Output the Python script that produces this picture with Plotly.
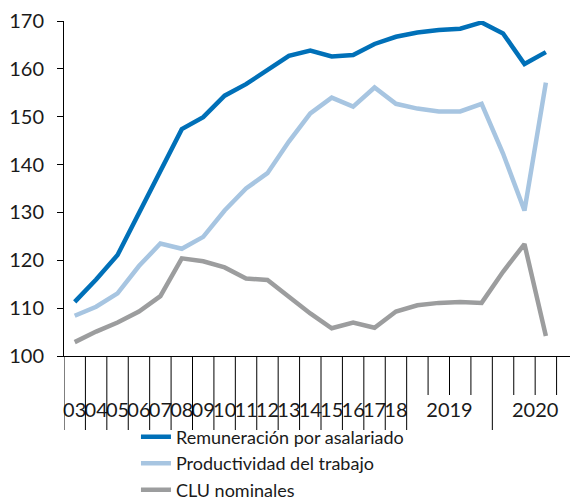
import plotly.graph_objects as go

# ---- data ----
categories = ["03", "04", "05", "06", "07", "08", "09", "10", "11", "12", "13", "14",
              "15", "16", "17", "18",
              "2019 T1", "2019 T2", "2019 T3", "2019 T4",
              "2020 T1", "2020 T2", "2020 T3"]
remuneracion = [111.3, 116.0, 121.1, 129.8, 138.6, 147.4, 149.9, 154.4, 156.8, 159.8,
                162.7, 163.8, 162.6, 162.9, 165.2, 166.7,
                167.6, 168.1, 168.4, 169.7, 167.4, 161.0, 163.5]
productividad = [108.4, 110.3, 113.1, 118.8, 123.5, 122.4, 124.9, 130.4, 135.0, 138.2,
                 144.8, 150.7, 154.0, 152.1, 156.1, 152.7,
                 151.7, 151.1, 151.1, 152.7, 142.3, 130.4, 157.1]
clu = [102.9, 105.1, 107.0, 109.3, 112.5, 120.4, 119.8, 118.5, 116.2, 115.9,
       112.4, 108.9, 105.8, 107.0, 105.9, 109.3,
       110.6, 111.1, 111.3, 111.1, 117.6, 123.4, 104.2]
annual_labels = ["03", "04", "05", "06", "07", "08", "09", "10", "11", "12", "13", "14",
                 "15", "16", "17", "18"]
year_labels = ["2019", "2020"]
y_ticks = [100, 110, 120, 130, 140, 150, 160, 170]

series = [
    ("Remuneración por asalariado", remuneracion, "#0070B8"),
    ("Productividad del trabajo", productividad, "#A7C5E1"),
    ("CLU nominales", clu, "#9C9D9E"),
]

n_annual = len(annual_labels)
n_slots = n_annual + 4 * len(year_labels)   # quarterly slots for 2019 and 2020
x_idx = list(range(len(categories)))

# label positions: annual centers + centre of each 4-quarter group
label_vals = list(range(n_annual)) + [n_annual + 4 * k + 1.5 for k in range(len(year_labels))]
label_text = annual_labels + year_labels
long_ticks = [i - 0.5 for i in range(n_annual + 1)] + [n_annual + 4 * k - 0.5 for k in range(1, len(year_labels))]
short_ticks = [n_annual + 4 * k + q - 0.5 for k in range(len(year_labels)) for q in range(1, 4)]

FONT = "Lato, 'Liberation Sans', Arial, sans-serif"
# page body has an 8px default margin, so the figure is 8px smaller than the window
W, H = 570, 494
M_L, M_R, M_T, M_B = 56, 0, 13, 146
PLOT_H = H - M_T - M_B
LONG_LEN = 74
SHORT_LEN = 39

fig = go.Figure()
for name, vals, color in series:
    fig.add_trace(go.Scatter(x=x_idx, y=vals, name=name, mode="lines",
                             line=dict(color=color, width=4.5)))

for ticks, length in ((long_ticks, LONG_LEN), (short_ticks, SHORT_LEN)):
    for b in ticks:
        fig.add_shape(type="line", xref="x", yref="paper", x0=b, x1=b,
                      y0=0, y1=-length / PLOT_H,
                      line=dict(color="#000000", width=1))

fig.update_layout(
    width=W, height=H,
    margin=dict(l=M_L, r=M_R, t=M_T, b=M_B, autoexpand=False),
    paper_bgcolor="white", plot_bgcolor="white",
    font=dict(family=FONT, size=20, color="#1a1a1a"),
    showlegend=True,
    legend=dict(orientation="v", x=0.14, y=-0.187, xanchor="left", yanchor="top",
                bgcolor="rgba(0,0,0,0)", font=dict(size=18, family=FONT),
                tracegroupgap=0),
    xaxis=dict(range=[-0.5, n_slots - 0.5], showline=True, linecolor="#000000",
               linewidth=1, showgrid=False, zeroline=False, automargin=False,
               tickmode="array", tickvals=label_vals, ticktext=label_text,
               ticks="", ticklabelstandoff=36, tickangle=0,
               tickfont=dict(size=20, family=FONT, color="#1a1a1a")),
    yaxis=dict(range=[100, 170], tickmode="array", tickvals=y_ticks,
               showline=True, linecolor="#000000", linewidth=1, automargin=False,
               ticks="outside", ticklen=6, tickcolor="#000000",
               showgrid=False, zeroline=False, ticklabelstandoff=9,
               tickfont=dict(size=20, family=FONT, color="#1a1a1a")),
)

fig.write_html("out.html")
